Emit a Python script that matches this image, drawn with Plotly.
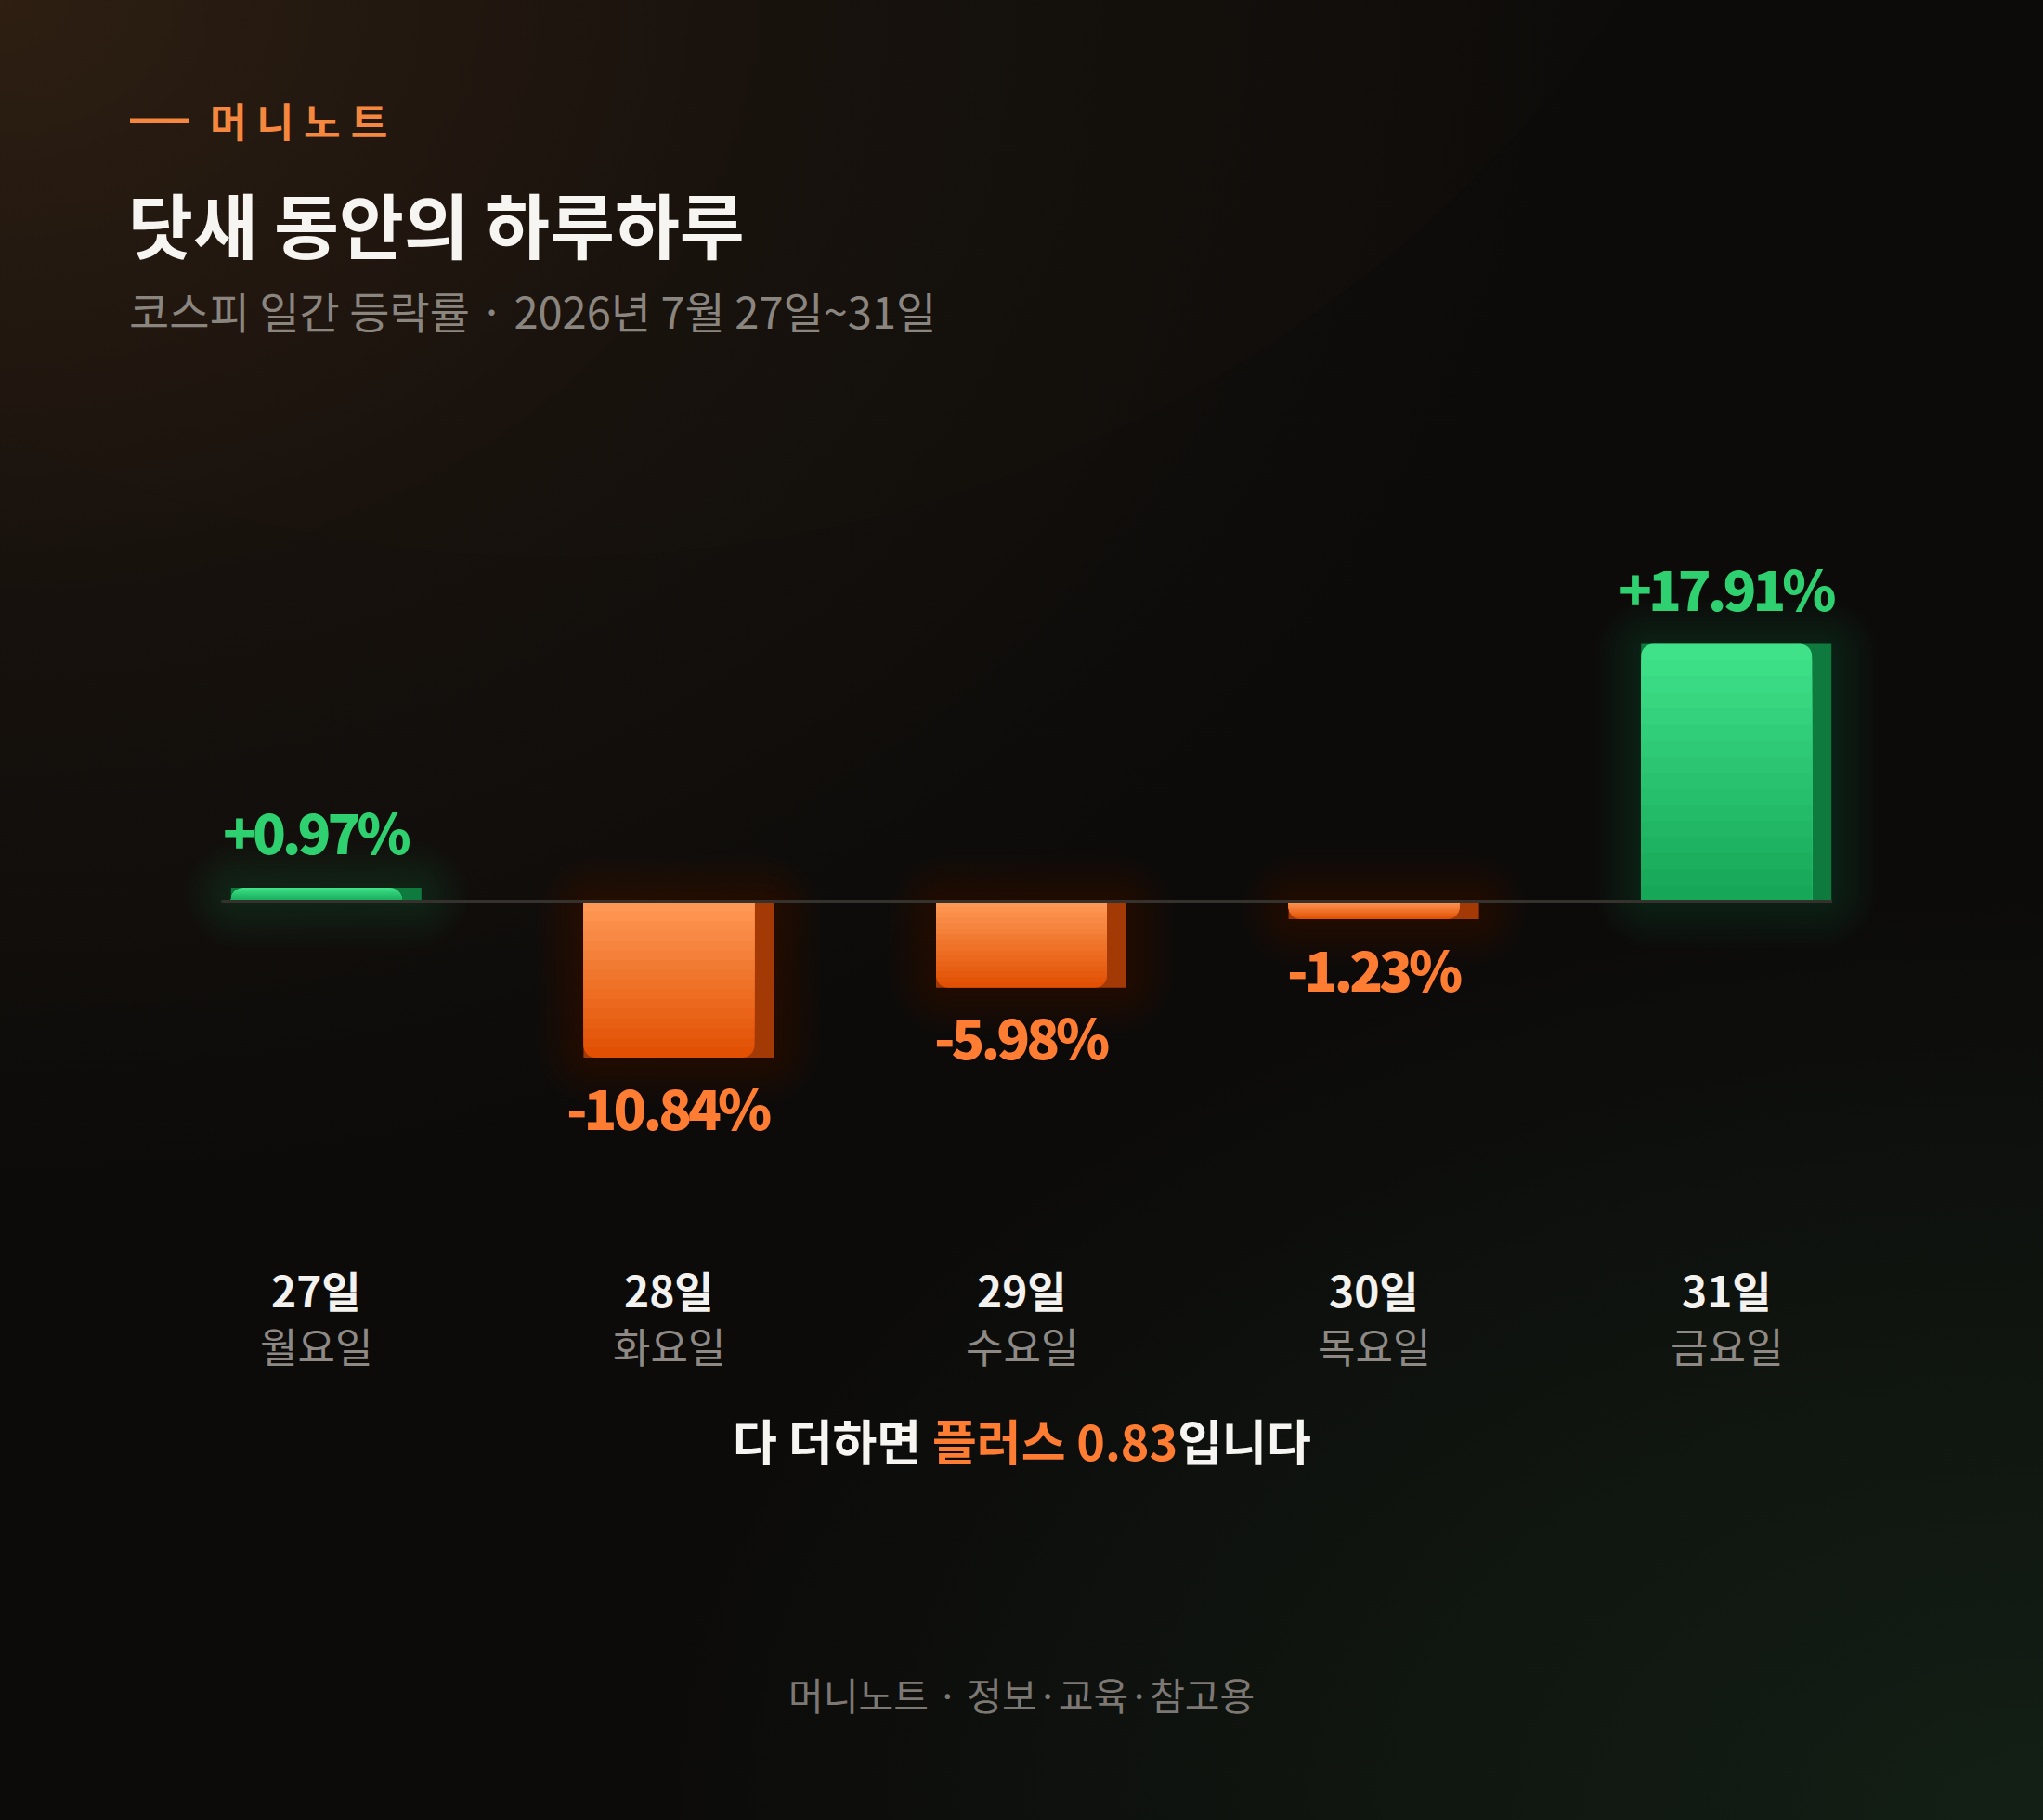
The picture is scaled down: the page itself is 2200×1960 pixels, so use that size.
import base64
import plotly.graph_objects as go

# ----------- Data -----------
days = ["27일", "28일", "29일", "30일", "31일"]
weekdays = ["월요일", "화요일", "수요일", "목요일", "금요일"]
changes = [0.97, -10.84, -5.98, -1.23, 17.91]
total_change = 0.83

brand = "머니노트"
title = "닷새 동안의 하루하루"
subtitle = "코스피 일간 등락률 · 2026년 7월 27일~31일"
footer = "머니노트 · 정보·교육·참고용"

# ----------- Layout constants (pixels) -----------
W, H = 2200, 1960
ML, MR = 151, 151
PLOT_W = W - ML - MR
ZERO_PX = 971
PX_PER_PCT = 15.5
SLOT = PLOT_W / len(days)
FACE_W = 184 / SLOT
SIDE_W = 21 / SLOT
RADIUS = 13

FONT = "Noto Sans CJK KR"
GREEN_TOP, GREEN_BOT, GREEN_SIDE = "#40e48b", "#15a556", "#0f7a3d"
ORANGE_TOP, ORANGE_BOT, ORANGE_SIDE = "#ff9a57", "#e04e00", "#a33a06"
GREEN_TXT, ORANGE_TXT = "#2fd070", "#ff7d33"


def px2x(px):
    return (px - ML) / PLOT_W


def px2y(py):
    return 1 - py / H


def hex2rgb(c):
    c = c.lstrip("#")
    return tuple(int(c[i:i + 2], 16) for i in (0, 2, 4))


def mix(c1, c2, t):
    a, b = hex2rgb(c1), hex2rgb(c2)
    return "rgb({},{},{})".format(*[round(a[i] + (b[i] - a[i]) * t) for i in range(3)])


up = [v >= 0 for v in changes]
sign = [1 if u else -1 for u in up]
far_col = [GREEN_TOP if u else ORANGE_BOT for u in up]
near_col = [GREEN_BOT if u else ORANGE_TOP for u in up]
side_col = [GREEN_SIDE if u else ORANGE_SIDE for u in up]

fig = go.Figure()

# soft glow behind bars
STEP = 5
for k in range(10, 0, -1):
    e = k * STEP / PX_PER_PCT
    fig.add_trace(go.Bar(
        x=days, y=[v + 2 * e * s for v, s in zip(changes, sign)],
        base=[-e * s for s in sign],
        width=FACE_W + SIDE_W + 2 * k * STEP / SLOT,
        offset=-(FACE_W / 2) - k * STEP / SLOT,
        marker=dict(color=["rgba(46,204,113,0.016)" if u else "rgba(255,120,40,0.011)" for u in up],
                    line=dict(width=0), cornerradius=RADIUS + k * STEP),
        hoverinfo="skip", showlegend=False))

# side face (3d look)
fig.add_trace(go.Bar(
    x=days, y=changes, width=FACE_W + SIDE_W, offset=-FACE_W / 2,
    marker=dict(color=side_col, line=dict(width=0), cornerradius=RADIUS),
    hoverinfo="skip", showlegend=False))

# front face with stepped gradient
N = 16
fig.add_trace(go.Bar(
    x=days, y=changes, width=FACE_W, offset=-FACE_W / 2,
    marker=dict(color=[mix(f, n, 0.5 / N) for f, n in zip(far_col, near_col)],
                line=dict(width=0), cornerradius=RADIUS),
    hoverinfo="skip", showlegend=False))
for i in range(1, N):
    fig.add_trace(go.Bar(
        x=days, y=[v * (1 - i / N) for v in changes], width=FACE_W, offset=-FACE_W / 2,
        marker=dict(color=[mix(f, n, (i + 0.5) / N) for f, n in zip(far_col, near_col)],
                    line=dict(width=0), cornerradius=RADIUS),
        hoverinfo="skip", showlegend=False))

# zero line
fig.add_shape(type="line", xref="x", yref="y", x0=-0.27, x1=4.30, y0=0, y1=0,
              line=dict(color="#35312d", width=4), layer="above")

# value labels
for d, v in zip(days, changes):
    fig.add_annotation(
        x=d, y=v, xref="x", yref="y",
        text="<span style='letter-spacing:-4px'>{:+.2f}%</span>".format(v),
        showarrow=False, yanchor="middle", yshift=61 if v >= 0 else -52,
        font=dict(family=FONT, size=59, weight=900, color=GREEN_TXT if v >= 0 else ORANGE_TXT))

# day / weekday labels
for d, wd in zip(days, weekdays):
    fig.add_annotation(x=d, y=px2y(1388), xref="x", yref="paper", text=d, showarrow=False,
                       yanchor="middle", font=dict(family=FONT, size=46, weight=700, color="#f4f2ef"))
    fig.add_annotation(x=d, y=px2y(1449), xref="x", yref="paper", text=wd, showarrow=False,
                       yanchor="middle", font=dict(family=FONT, size=44, color="#8e8984"))

# header
fig.add_shape(type="line", xref="paper", yref="paper", x0=px2x(140), x1=px2x(203),
              y0=px2y(130), y1=px2y(130), line=dict(color="#f5873f", width=5))
fig.add_annotation(x=px2x(224), y=px2y(129), xref="paper", yref="paper",
                   text="<span style='letter-spacing:11px'>" + brand + "</span>",
                   showarrow=False, xanchor="left", yanchor="middle",
                   font=dict(family=FONT, size=43, weight=700, color="#f5873f"))
fig.add_annotation(x=px2x(136), y=px2y(240), xref="paper", yref="paper", text=title,
                   showarrow=False, xanchor="left", yanchor="middle",
                   font=dict(family=FONT, size=76, weight=700, color="#f7f5f2"))
fig.add_annotation(x=px2x(137), y=px2y(334), xref="paper", yref="paper", text=subtitle,
                   showarrow=False, xanchor="left", yanchor="middle",
                   font=dict(family=FONT, size=47, color="#8b8580"))

# summary + footer
summary = "다 더하면 <span style='color:{}'>플러스 {:.2f}</span>입니다".format(ORANGE_TXT, total_change)
fig.add_annotation(x=0.5, y=px2y(1550), xref="paper", yref="paper", text=summary,
                   showarrow=False, yanchor="middle",
                   font=dict(family=FONT, size=52, weight=700, color="#f7f5f2"))
fig.add_annotation(x=0.5, y=px2y(1824), xref="paper", yref="paper", text=footer,
                   showarrow=False, yanchor="middle",
                   font=dict(family=FONT, size=41, color="#7d7873"))

# background gradients
svg = f'''<svg xmlns="http://www.w3.org/2000/svg" width="{W}" height="{H}" viewBox="0 0 {W} {H}">
<defs>
<radialGradient id="a" cx="0" cy="0" r="1" gradientUnits="userSpaceOnUse" gradientTransform="translate(0 0) scale(1700 1300)">
<stop offset="0" stop-color="#3c2716" stop-opacity="0.7"/>
<stop offset="0.5" stop-color="#3c2716" stop-opacity="0.22"/>
<stop offset="1" stop-color="#3c2716" stop-opacity="0"/>
</radialGradient>
<radialGradient id="b" cx="0" cy="0" r="1" gradientUnits="userSpaceOnUse" gradientTransform="translate({W} {H}) scale(1500 1000)">
<stop offset="0" stop-color="#1a3320" stop-opacity="0.5"/>
<stop offset="1" stop-color="#1a3320" stop-opacity="0"/>
</radialGradient>
</defs>
<rect width="{W}" height="{H}" fill="#0c0b0a"/>
<rect width="{W}" height="{H}" fill="url(#a)"/>
<rect width="{W}" height="{H}" fill="url(#b)"/>
<circle cx="600" cy="-800" r="1400" fill="#3a2818" fill-opacity="0.06"/>
</svg>'''
bg = "data:image/svg+xml;base64," + base64.b64encode(svg.encode()).decode()

fig.update_layout(
    width=W, height=H,
    margin=dict(l=ML, r=MR, t=0, b=0),
    paper_bgcolor="#0c0b0a", plot_bgcolor="rgba(0,0,0,0)",
    barmode="overlay",
    images=[dict(source=bg, xref="paper", yref="paper", x=-ML / PLOT_W, y=1,
                 sizex=W / PLOT_W, sizey=1, xanchor="left", yanchor="top",
                 sizing="stretch", layer="below")],
    xaxis=dict(range=[-0.5, 4.5], visible=False, fixedrange=True),
    yaxis=dict(range=[-(H - ZERO_PX) / PX_PER_PCT, ZERO_PX / PX_PER_PCT], visible=False, fixedrange=True),
    showlegend=False,
)

fig.write_html("out.html", config={"displayModeBar": False},
               post_script="document.body.style.margin='0';document.body.style.background='#0c0b0a';")
